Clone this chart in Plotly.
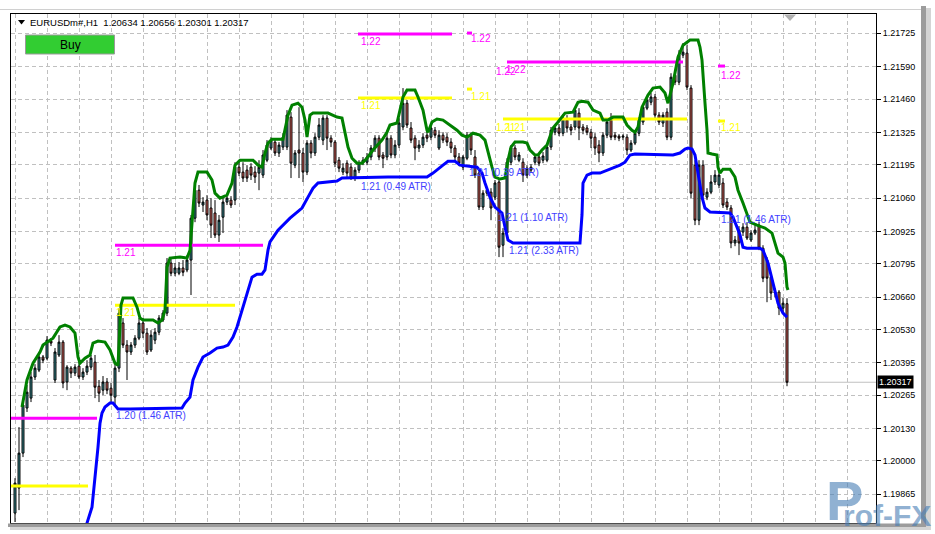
import plotly.graph_objects as go

# ---------------- data (EURUSDm#, H1) ----------------
open_ = [
 1.19789, 1.19890, 1.20031, 1.20213, 1.20253, 1.20338, 1.20366, 1.20419, 1.20414, 1.20483,
 1.20326, 1.20427, 1.20479, 1.20318, 1.20374, 1.20354, 1.20382, 1.20338, 1.20358, 1.20378,
 1.20398, 1.20301, 1.20285, 1.20318, 1.20293, 1.20257, 1.20374, 1.20556, 1.20467, 1.20439,
 1.20467, 1.20495, 1.20556, 1.20515, 1.20447, 1.20487, 1.20519, 1.20568, 1.20596, 1.20798,
 1.20757, 1.20757, 1.20778, 1.20770, 1.20810, 1.20979, 1.21092, 1.21032, 1.21052, 1.21020,
 1.21000, 1.20911, 1.20983, 1.21044, 1.21052, 1.21052, 1.21185, 1.21165, 1.21173, 1.21185,
 1.21165, 1.21161, 1.21153, 1.21213, 1.21262, 1.21286, 1.21242, 1.21266, 1.21266, 1.21387,
 1.21193, 1.21254, 1.21242, 1.21165, 1.21282, 1.21242, 1.21306, 1.21294, 1.21383, 1.21302,
 1.21286, 1.21213, 1.21165, 1.21201, 1.21185, 1.21141, 1.21173, 1.21205, 1.21205, 1.21226,
 1.21262, 1.21302, 1.21234, 1.21226, 1.21302, 1.21234, 1.21274, 1.21347, 1.21443, 1.21343,
 1.21302, 1.21262, 1.21274, 1.21314, 1.21306, 1.21334, 1.21262, 1.21314, 1.21306, 1.21286,
 1.21262, 1.21226, 1.21185, 1.21221, 1.21314, 1.21226, 1.21161, 1.21024, 1.21080, 1.21084,
 1.21064, 1.21125, 1.20870, 1.20919, 1.21205, 1.21262, 1.21213, 1.21205, 1.21153, 1.21173,
 1.21205, 1.21226, 1.21213, 1.21213, 1.21266, 1.21326, 1.21343, 1.21322, 1.21375, 1.21347,
 1.21347, 1.21403, 1.21347, 1.21343, 1.21326, 1.21306, 1.21274, 1.21242, 1.21314, 1.21375,
 1.21314, 1.21310, 1.21306, 1.21306, 1.21254, 1.21282, 1.21322, 1.21367, 1.21423, 1.21447,
 1.21468, 1.21395, 1.21363, 1.21407, 1.21306, 1.21556, 1.21528, 1.21637, 1.21645, 1.21504,
 1.21193, 1.20971, 1.21193, 1.21064, 1.21084, 1.21125, 1.21113, 1.21121, 1.21044, 1.21020,
 1.20879, 1.20931, 1.20923, 1.20943, 1.20891, 1.20919, 1.20951, 1.20858, 1.20810, 1.20741,
 1.20681, 1.20681, 1.20616, 1.20634,
]
high = [
 1.19930, 1.20136, 1.20237, 1.20306, 1.20358, 1.20390, 1.20439, 1.20427, 1.20503, 1.20495,
 1.20455, 1.20507, 1.20487, 1.20386, 1.20382, 1.20390, 1.20406, 1.20374, 1.20406, 1.20427,
 1.20427, 1.20326, 1.20342, 1.20334, 1.20314, 1.20398, 1.20616, 1.20576, 1.20487, 1.20479,
 1.20507, 1.20576, 1.20576, 1.20536, 1.20527, 1.20536, 1.20588, 1.20608, 1.20818, 1.20818,
 1.20798, 1.20802, 1.20810, 1.20830, 1.20992, 1.21113, 1.21113, 1.21064, 1.21072, 1.21060,
 1.21052, 1.20992, 1.21064, 1.21072, 1.21068, 1.21205, 1.21213, 1.21205, 1.21193, 1.21201,
 1.21189, 1.21213, 1.21254, 1.21294, 1.21306, 1.21302, 1.21286, 1.21322, 1.21415, 1.21407,
 1.21254, 1.21427, 1.21262, 1.21294, 1.21294, 1.21322, 1.21383, 1.21395, 1.21395, 1.21314,
 1.21294, 1.21226, 1.21201, 1.21213, 1.21201, 1.21185, 1.21213, 1.21226, 1.21242, 1.21274,
 1.21314, 1.21314, 1.21246, 1.21322, 1.21314, 1.21294, 1.21383, 1.21504, 1.21456, 1.21367,
 1.21314, 1.21294, 1.21322, 1.21334, 1.21355, 1.21347, 1.21334, 1.21326, 1.21322, 1.21302,
 1.21274, 1.21242, 1.21234, 1.21326, 1.21326, 1.21254, 1.21173, 1.21092, 1.21104, 1.21100,
 1.21133, 1.21141, 1.20939, 1.21221, 1.21274, 1.21274, 1.21246, 1.21221, 1.21193, 1.21197,
 1.21238, 1.21242, 1.21246, 1.21278, 1.21347, 1.21355, 1.21359, 1.21399, 1.21395, 1.21359,
 1.21427, 1.21423, 1.21359, 1.21355, 1.21339, 1.21322, 1.21294, 1.21326, 1.21383, 1.21403,
 1.21326, 1.21318, 1.21318, 1.21318, 1.21294, 1.21334, 1.21387, 1.21439, 1.21468, 1.21484,
 1.21480, 1.21407, 1.21407, 1.21423, 1.21564, 1.21577, 1.21657, 1.21686, 1.21677, 1.21516,
 1.21213, 1.21213, 1.21213, 1.21100, 1.21153, 1.21173, 1.21165, 1.21141, 1.21060, 1.21032,
 1.20907, 1.20947, 1.20959, 1.20963, 1.20931, 1.20951, 1.20963, 1.20870, 1.20822, 1.20757,
 1.20697, 1.20689, 1.20657, 1.20656,
]
low = [
 1.19753, 1.19801, 1.20015, 1.20197, 1.20237, 1.20326, 1.20358, 1.20394, 1.20406, 1.20463,
 1.20314, 1.20419, 1.20293, 1.20285, 1.20334, 1.20342, 1.20330, 1.20326, 1.20346, 1.20366,
 1.20253, 1.20237, 1.20265, 1.20269, 1.20233, 1.20225, 1.20358, 1.20455, 1.20326, 1.20427,
 1.20455, 1.20487, 1.20495, 1.20427, 1.20439, 1.20471, 1.20507, 1.20560, 1.20584, 1.20745,
 1.20745, 1.20749, 1.20745, 1.20761, 1.20669, 1.20963, 1.21024, 1.21004, 1.20971, 1.20899,
 1.20899, 1.20883, 1.20919, 1.21032, 1.21020, 1.21032, 1.21149, 1.21125, 1.21125, 1.21133,
 1.21121, 1.21092, 1.21141, 1.21205, 1.21254, 1.21230, 1.21226, 1.21254, 1.21254, 1.21141,
 1.21181, 1.21141, 1.21125, 1.21153, 1.21221, 1.21230, 1.21294, 1.21274, 1.21254, 1.21266,
 1.21185, 1.21165, 1.21153, 1.21145, 1.21133, 1.21129, 1.21161, 1.21193, 1.21193, 1.21213,
 1.21246, 1.21213, 1.21181, 1.21213, 1.21221, 1.21221, 1.21262, 1.21334, 1.21343, 1.21282,
 1.21213, 1.21246, 1.21262, 1.21286, 1.21294, 1.21302, 1.21254, 1.21282, 1.21270, 1.21242,
 1.21213, 1.21189, 1.21173, 1.21213, 1.21234, 1.21141, 1.21012, 1.21012, 1.21068, 1.20971,
 1.21052, 1.20822, 1.20822, 1.20907, 1.21193, 1.21213, 1.21205, 1.21125, 1.21141, 1.21165,
 1.21193, 1.21189, 1.21201, 1.21205, 1.21254, 1.21314, 1.21310, 1.21310, 1.21326, 1.21314,
 1.21334, 1.21294, 1.21318, 1.21314, 1.21262, 1.21234, 1.21205, 1.21230, 1.21302, 1.21294,
 1.21294, 1.21290, 1.21294, 1.21234, 1.21246, 1.21274, 1.21310, 1.21355, 1.21415, 1.21435,
 1.21383, 1.21355, 1.21347, 1.21294, 1.21294, 1.21516, 1.21516, 1.21625, 1.21496, 1.21060,
 1.20951, 1.20951, 1.21060, 1.21052, 1.21076, 1.21113, 1.21100, 1.21020, 1.21012, 1.20858,
 1.20866, 1.20830, 1.20907, 1.20891, 1.20883, 1.20911, 1.20850, 1.20721, 1.20640, 1.20649,
 1.20661, 1.20588, 1.20600, 1.20301,
]
close = [
 1.19910, 1.20031, 1.20225, 1.20277, 1.20338, 1.20374, 1.20419, 1.20406, 1.20487, 1.20475,
 1.20439, 1.20479, 1.20314, 1.20378, 1.20354, 1.20378, 1.20338, 1.20358, 1.20382, 1.20414,
 1.20297, 1.20273, 1.20318, 1.20285, 1.20265, 1.20374, 1.20596, 1.20467, 1.20439, 1.20467,
 1.20495, 1.20556, 1.20515, 1.20439, 1.20507, 1.20519, 1.20576, 1.20596, 1.20798, 1.20757,
 1.20778, 1.20778, 1.20761, 1.20810, 1.20979, 1.21092, 1.21040, 1.21044, 1.20992, 1.20951,
 1.20911, 1.20971, 1.21044, 1.21060, 1.21032, 1.21185, 1.21161, 1.21141, 1.21141, 1.21153,
 1.21145, 1.21185, 1.21234, 1.21274, 1.21294, 1.21242, 1.21274, 1.21306, 1.21395, 1.21201,
 1.21242, 1.21242, 1.21165, 1.21282, 1.21242, 1.21306, 1.21355, 1.21383, 1.21302, 1.21286,
 1.21201, 1.21181, 1.21181, 1.21161, 1.21141, 1.21173, 1.21201, 1.21213, 1.21226, 1.21262,
 1.21302, 1.21226, 1.21221, 1.21302, 1.21234, 1.21274, 1.21363, 1.21443, 1.21355, 1.21294,
 1.21262, 1.21274, 1.21306, 1.21302, 1.21343, 1.21314, 1.21314, 1.21294, 1.21286, 1.21262,
 1.21226, 1.21201, 1.21226, 1.21314, 1.21254, 1.21153, 1.21024, 1.21080, 1.21092, 1.21020,
 1.21121, 1.20862, 1.20919, 1.21205, 1.21262, 1.21226, 1.21234, 1.21153, 1.21181, 1.21185,
 1.21226, 1.21201, 1.21230, 1.21266, 1.21334, 1.21343, 1.21322, 1.21383, 1.21343, 1.21334,
 1.21415, 1.21343, 1.21334, 1.21326, 1.21302, 1.21262, 1.21242, 1.21314, 1.21367, 1.21306,
 1.21306, 1.21302, 1.21310, 1.21254, 1.21282, 1.21322, 1.21375, 1.21427, 1.21456, 1.21468,
 1.21395, 1.21367, 1.21395, 1.21306, 1.21548, 1.21528, 1.21637, 1.21649, 1.21508, 1.21080,
 1.20971, 1.21193, 1.21072, 1.21084, 1.21125, 1.21153, 1.21153, 1.21032, 1.21024, 1.20879,
 1.20891, 1.20879, 1.20943, 1.20899, 1.20919, 1.20931, 1.20858, 1.20737, 1.20737, 1.20677,
 1.20677, 1.20616, 1.20636, 1.20317,
]
bars = list(range(len(close)))

# upper envelope (green) : (bar, price)
green_line = [
 (1.75, 1.20217), (3, 1.20326), (4.5, 1.20394), (6.25, 1.20439), (7, 1.20467), (8, 1.20479),
 (9.5, 1.20495), (11.25, 1.20540), (12.5, 1.20548), (13.75, 1.20540), (15, 1.20515), (15.75, 1.20419),
 (16.25, 1.20394), (17.5, 1.20414), (18.75, 1.20427), (19.5, 1.20475), (20.75, 1.20483), (22.5, 1.20479),
 (23.75, 1.20447), (25, 1.20394), (25.75, 1.20386), (26.5, 1.20628), (27, 1.20657), (29.5, 1.20657),
 (30.5, 1.20620), (31.25, 1.20576), (32, 1.20568), (34.5, 1.20568), (35.75, 1.20556), (36.75, 1.20568),
 (37.5, 1.20608), (38, 1.20782), (38.75, 1.20818), (41.25, 1.20822), (43, 1.20818), (43.75, 1.20850),
 (44.5, 1.21024), (45, 1.21121), (45.75, 1.21165), (48, 1.21165), (49.25, 1.21133), (50, 1.21080),
 (51.25, 1.21060), (53, 1.21072), (54.25, 1.21121), (55, 1.21193), (56.25, 1.21213), (59.5, 1.21213),
 (60.75, 1.21193), (61.75, 1.21185), (62.5, 1.21242), (63.25, 1.21282), (64.25, 1.21298), (67, 1.21298),
 (68.25, 1.21395), (69.25, 1.21435), (70.75, 1.21443), (71.75, 1.21427), (72.5, 1.21375), (73, 1.21306),
 (73.75, 1.21395), (74.5, 1.21403), (78.25, 1.21403), (80.5, 1.21387), (81.75, 1.21383), (82.5, 1.21322),
 (83.25, 1.21266), (84.25, 1.21221), (85.5, 1.21201), (86.75, 1.21201), (88, 1.21221), (89.5, 1.21254),
 (91.75, 1.21294), (93, 1.21326), (93.75, 1.21355), (95.5, 1.21363), (97, 1.21468), (98, 1.21496),
 (100, 1.21496), (100.75, 1.21468), (102, 1.21415), (103, 1.21334), (103.25, 1.21326), (104.25, 1.21367),
 (105.5, 1.21379), (107, 1.21375), (108.75, 1.21355), (110.5, 1.21334), (111.75, 1.21314), (113, 1.21306),
 (114.5, 1.21322), (116.25, 1.21314), (117.5, 1.21294), (118.25, 1.21242), (119.25, 1.21185), (120, 1.21145),
 (121.25, 1.21137), (122.5, 1.21141), (123.25, 1.21213), (124, 1.21266), (125, 1.21286), (127, 1.21286),
 (128, 1.21282), (128.75, 1.21254), (130, 1.21234), (130.75, 1.21234), (131.75, 1.21254), (133, 1.21274),
 (134.5, 1.21343), (135.75, 1.21367), (137.5, 1.21403), (139.5, 1.21407), (140.75, 1.21447), (141.75, 1.21451),
 (143.25, 1.21447), (144.5, 1.21415), (146.25, 1.21403), (147, 1.21375), (148.25, 1.21375), (149.5, 1.21387),
 (152, 1.21387), (153, 1.21355), (154.25, 1.21334), (155, 1.21326), (155.75, 1.21347), (156.75, 1.21427),
 (158.25, 1.21476), (159.5, 1.21504), (161.25, 1.21508), (162.5, 1.21484), (163.25, 1.21443), (164.5, 1.21524),
 (165.75, 1.21629), (167, 1.21677), (168.75, 1.21698), (170.75, 1.21698), (171.25, 1.21669), (171.75, 1.21617),
 (172, 1.21548), (172.5, 1.21443), (173, 1.21334), (173.25, 1.21242), (174.25, 1.21238), (175.5, 1.21234),
 (175.75, 1.21185), (176.25, 1.21161), (177, 1.21177), (178.75, 1.21177), (180, 1.21145), (180.75, 1.21092),
 (182, 1.21040), (183, 1.21000), (183.75, 1.20963), (185.5, 1.20951), (187.5, 1.20939), (189.25, 1.20919),
 (190, 1.20879), (190.75, 1.20838), (192, 1.20822), (192.5, 1.20798), (193, 1.20701), (193.25, 1.20689),
]

# trailing stop (blue) : (bar, price)
blue_line = [
 (17.25, 1.19660), (18, 1.19749), (19.25, 1.19813), (20, 1.19922), (20.75, 1.20055), (21.25, 1.20152),
 (21.75, 1.20193), (22.5, 1.20217), (23.75, 1.20233), (24.5, 1.20233), (25.75, 1.20209), (28.75, 1.20209),
 (41.75, 1.20213), (42.5, 1.20233), (43.75, 1.20257), (44.5, 1.20326), (45.75, 1.20378), (47, 1.20419),
 (48.75, 1.20435), (50.5, 1.20455), (52, 1.20459), (53.25, 1.20467), (54.5, 1.20499), (55.5, 1.20540),
 (56.75, 1.20608), (58, 1.20677), (59.25, 1.20741), (60.5, 1.20753), (61.75, 1.20753), (62.5, 1.20770),
 (63.25, 1.20850), (63.75, 1.20883), (65.75, 1.20931), (68.75, 1.20979), (71.75, 1.21020), (73.25, 1.21064),
 (74.5, 1.21100), (75.75, 1.21121), (78.25, 1.21125), (80.5, 1.21129), (81.75, 1.21141), (93.25, 1.21145),
 (103, 1.21145), (104.5, 1.21161), (107, 1.21193), (108.25, 1.21209), (110, 1.21209), (111.25, 1.21193),
 (115.5, 1.21185), (116.75, 1.21161), (117.5, 1.21121), (118.75, 1.21064), (120, 1.21024), (120.75, 1.21012),
 (121.75, 1.21000), (122.5, 1.20943), (123.25, 1.20891), (124.5, 1.20879), (141.25, 1.20879), (141.75, 1.20992),
 (142, 1.21121), (143, 1.21153), (144.25, 1.21161), (146.25, 1.21161), (148, 1.21173), (149.5, 1.21181),
 (151.25, 1.21193), (152.5, 1.21205), (153.75, 1.21234), (155, 1.21238), (164.5, 1.21234), (166.25, 1.21242),
 (167.5, 1.21258), (168.25, 1.21262), (169.25, 1.21258), (170, 1.21234), (170.75, 1.21161), (171.75, 1.21064),
 (172.5, 1.21020), (173.75, 1.21004), (178.75, 1.21000), (179.5, 1.20983), (180.5, 1.20943), (181.25, 1.20911),
 (182, 1.20862), (183, 1.20858), (186.25, 1.20858), (187, 1.20850), (188.25, 1.20798), (189.25, 1.20729),
 (190, 1.20689), (190.75, 1.20636), (192, 1.20596), (193, 1.20580),
]

# horizontal target levels: (price, first bar, last bar, kind)
levels = [
 (1.20172, -1, 20.5, "upper"), (1.19898, -1, 18.25, "lower"),
 (1.20628, 25, 55, "lower"), (1.20870, 25, 62, "upper"),
 (1.21464, 85.75, 109.25, "lower"), (1.21722, 85.75, 109.25, "upper"),
 (1.21500, 113, 114.25, "lower"), (1.21726, 113, 114.25, "upper"),
 (1.21609, 123, 167, "upper"), (1.21379, 122, 168, "lower"),
 (1.21593, 175.75, 177.5, "upper"), (1.21371, 175.75, 177.5, "lower"),
]
# level captions: (text, bar, price, kind)
level_labels = [
 ("1.21", 25, 1.20600, "lower"), ("1.21", 25, 1.20842, "upper"),
 ("1.21", 86.25, 1.21435, "lower"), ("1.22", 86.25, 1.21694, "upper"),
 ("1.22", 113.75, 1.21706, "upper"), ("1.21", 113.75, 1.21472, "lower"),
 ("1.22", 120, 1.21573, "upper"), ("1.22", 122.5, 1.21581, "upper"),
 ("1.21", 120, 1.21343, "lower"), ("1.21", 122.5, 1.21347, "lower"),
 ("1.22", 176.25, 1.21556, "upper"), ("1.21", 176.25, 1.21343, "lower"),
]
# stop captions: (text, bar, price)
atr_labels = [
 ("1.20 (1.46 ATR)", 25, 1.20182),
 ("1.21 (0.49 ATR)", 86.25, 1.21108),
 ("1.21 (0.39 ATR)", 113.25, 1.21165),
 ("1.21 (1.10 ATR)", 120.5, 1.20983),
 ("1.21 (2.33 ATR)", 123.25, 1.20850),
 ("1.21 (1.46 ATR)", 176.25, 1.20975),
]
tick_text = ["1.21725", "1.21590", "1.21460", "1.21325", "1.21195", "1.21060", "1.20925",
             "1.20795", "1.20660", "1.20530", "1.20395", "1.20265", "1.20130", "1.20000", "1.19865"]
tick_prices = [float(t) for t in tick_text]
current_price = 1.20317
header_text = "EURUSDm#,H1  1.20634 1.20656 1.20301 1.20317"

# ---------------- styling / layout ----------------
W, H = 935, 534
PL, PR, PT, PB = 11, 876, 14, 523
FONT = "Liberation Sans, Arial, sans-serif"
BULL, BEAR = "#3A8F96", "#E2665F"
KIND_COLOR = {"upper": "#FF00FF", "lower": "#FFFF00"}
ATR_COLOR = "#3F3FFF"


def fx(px):
    return (px - PL) / (PR - PL)


def fy(py):
    return (PB - py) / (PB - PT)


fig = go.Figure()
fig.add_trace(go.Candlestick(
    x=bars, open=open_, high=high, low=low, close=close,
    increasing=dict(line=dict(color="#000000", width=1), fillcolor=BULL),
    decreasing=dict(line=dict(color="#000000", width=1), fillcolor=BEAR),
    whiskerwidth=0, hoverinfo="skip", showlegend=False))

for kind in ("lower", "upper"):
    xs, ys = [], []
    for price, b0, b1, k in levels:
        if k == kind:
            xs += [b0, b1, None]
            ys += [price, price, None]
    fig.add_trace(go.Scatter(x=xs, y=ys, mode="lines", hoverinfo="skip",
                             line=dict(color=KIND_COLOR[kind], width=3), showlegend=False))

fig.add_trace(go.Scatter(x=[p[0] for p in green_line], y=[p[1] for p in green_line],
                         mode="lines", line=dict(color="#008000", width=3),
                         hoverinfo="skip", showlegend=False))
fig.add_trace(go.Scatter(x=[p[0] for p in blue_line], y=[p[1] for p in blue_line],
                         mode="lines", line=dict(color="#0000FF", width=3),
                         hoverinfo="skip", showlegend=False))

ann = []
for text, b, p, kind in level_labels:
    ann.append(dict(x=b, y=p, xref="x", yref="y", text=text, showarrow=False,
                    xanchor="left", yanchor="middle", borderpad=0,
                    font=dict(family=FONT, size=10, color=KIND_COLOR[kind])))
for text, b, p in atr_labels:
    ann.append(dict(x=b, y=p, xref="x", yref="y", text=text, showarrow=False,
                    xanchor="left", yanchor="middle", borderpad=0,
                    font=dict(family=FONT, size=10, color=ATR_COLOR)))
# header
ann.append(dict(x=fx(29), y=fy(22), xref="paper", yref="paper", text=header_text,
                showarrow=False, xanchor="left", yanchor="middle", borderpad=0,
                font=dict(family=FONT, size=9.5, color="black")))
# Buy button text
ann.append(dict(x=fx(70), y=fy(44.5), xref="paper", yref="paper", text="Buy",
                showarrow=False, xanchor="center", yanchor="middle",
                font=dict(family=FONT, size=12, color="black")))
# current price box
ann.append(dict(x=1, y=current_price, xref="paper", yref="y", text=f"{current_price:.5f}",
                showarrow=False, xanchor="left", yanchor="middle", xshift=1, borderpad=1,
                bgcolor="black", font=dict(family=FONT, size=9, color="white")))
# watermark
ann.append(dict(x=fx(864), y=fy(533), xref="paper", yref="paper", text="<b>P</b>",
                showarrow=False, xanchor="right", yanchor="bottom", borderpad=0,
                font=dict(family=FONT, size=56, color="rgba(70,125,180,0.6)")))
ann.append(dict(x=fx(932), y=fy(533), xref="paper", yref="paper", text="<b>rof-FX</b>",
                showarrow=False, xanchor="right", yanchor="bottom", borderpad=0,
                font=dict(family=FONT, size=30, color="rgba(70,125,180,0.6)")))

shapes = [
    dict(type="line", xref="paper", yref="y", x0=0, x1=1, y0=current_price, y1=current_price,
         line=dict(color="#C0C0C0", width=1), layer="below"),
    dict(type="rect", xref="paper", yref="paper", x0=fx(25.5), x1=fx(114.5), y0=fy(35), y1=fy(54),
         fillcolor="#32CD32", line=dict(color="#9A9A9A", width=1)),
    dict(type="path", xref="paper", yref="paper",
         path=f"M {fx(18)},{fy(20)} L {fx(25)},{fy(20)} L {fx(21.5)},{fy(24.5)} Z",
         fillcolor="black", line=dict(width=0)),
    dict(type="path", xref="paper", yref="paper",
         path=f"M {fx(784)},{fy(14.5)} L {fx(796)},{fy(14.5)} L {fx(790)},{fy(21)} Z",
         fillcolor="#B0B0B0", line=dict(width=0)),
    # window shadow
    dict(type="rect", xref="paper", yref="paper", x0=fx(921), x1=fx(926), y0=fy(528), y1=fy(6),
         fillcolor="#9C9C9C", line=dict(width=0)),
    dict(type="rect", xref="paper", yref="paper", x0=fx(926), x1=fx(931), y0=fy(530), y1=fy(8),
         fillcolor="#D4D4D4", line=dict(width=0)),
    dict(type="rect", xref="paper", yref="paper", x0=fx(8), x1=fx(921), y0=fy(527), y1=fy(523.5),
         fillcolor="#9C9C9C", line=dict(width=0)),
    dict(type="rect", xref="paper", yref="paper", x0=fx(10), x1=fx(926), y0=fy(530), y1=fy(527),
         fillcolor="#D4D4D4", line=dict(width=0)),
    dict(type="line", xref="paper", yref="paper", x0=fx(0), x1=fx(921), y0=fy(9.5), y1=fy(9.5),
         line=dict(color="#D0D0D0", width=1)),
]

grid = dict(showgrid=True, gridcolor="#C0C0C0", gridwidth=1, griddash="4px,3px")
fig.update_layout(
    width=W, height=H,
    margin=dict(l=PL, r=W - PR, t=PT, b=H - PB),
    paper_bgcolor="white", plot_bgcolor="white",
    showlegend=False, hovermode=False,
    font=dict(family=FONT, size=9, color="black"),
    xaxis=dict(range=[-1, 215.25], tickvals=list(range(0, 216, 8)), showticklabels=False,
               ticks="", showline=True, mirror=True, linecolor="black", linewidth=1,
               zeroline=False, rangeslider=dict(visible=False), fixedrange=True, **grid),
    yaxis=dict(side="right", range=[1.19749, 1.21803], tickvals=tick_prices, ticktext=tick_text,
               ticks="outside", ticklen=4, tickcolor="black", tickwidth=1,
               tickfont=dict(family=FONT, size=9, color="black"),
               showline=True, mirror=True, linecolor="black", linewidth=1,
               zeroline=False, fixedrange=True, **grid),
    annotations=ann, shapes=shapes,
)

fig.write_html("out.html", config={"displayModeBar": False},
               post_script="document.body.style.margin='0';document.body.style.overflow='hidden';")
